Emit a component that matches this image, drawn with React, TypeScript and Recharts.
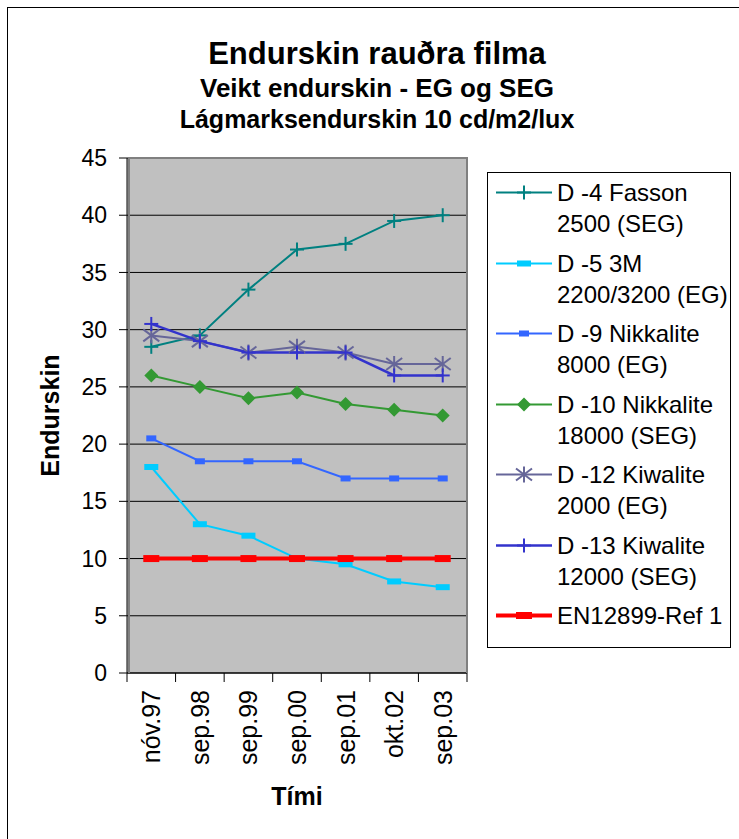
import { CartesianGrid, Line, LineChart, XAxis, YAxis } from 'recharts'

const CATEGORIES = ['nóv.97', 'sep.98', 'sep.99', 'sep.00', 'sep.01', 'okt.02', 'sep.03']
const Y_TICKS = [0, 5, 10, 15, 20, 25, 30, 35, 40, 45]

const D4_FASSON = [28.5, 29.5, 33.5, 37, 37.5, 39.5, 40]
const D5_3M = [18, 13, 12, 10, 9.5, 8, 7.5]
const D9_NIKKALITE = [20.5, 18.5, 18.5, 18.5, 17, 17, 17]
const D10_NIKKALITE = [26, 25, 24, 24.5, 23.5, 23, 22.5]
const D12_KIWALITE = [29.5, 29, 28, 28.5, 28, 27, 27]
const D13_KIWALITE = [30.5, 29, 28, 28, 28, 26, 26]
const EN_REF = [10, 10, 10, 10, 10, 10, 10]

const TITLE = 'Endurskin rauðra filma'
const SUBTITLE_1 = 'Veikt endurskin - EG og SEG'
const SUBTITLE_2 = 'Lágmarksendurskin 10 cd/m2/lux'
const Y_TITLE = 'Endurskin'
const X_TITLE = 'Tími'

type MarkerKind = 'plus' | 'rectWide' | 'rectSmall' | 'diamond' | 'star' | 'rectRef'

interface SeriesDef {
  key: string
  lines: string[]
  values: number[]
  color: string
  width: number
  marker: MarkerKind
}

const SERIES: SeriesDef[] = [
  { key: 'd4', lines: ['D -4 Fasson', '2500 (SEG)'], values: D4_FASSON, color: '#008080', width: 2, marker: 'plus' },
  { key: 'd5', lines: ['D -5 3M', '2200/3200 (EG)'], values: D5_3M, color: '#00CCFF', width: 2, marker: 'rectWide' },
  { key: 'd9', lines: ['D -9 Nikkalite', '8000 (EG)'], values: D9_NIKKALITE, color: '#3366FF', width: 2, marker: 'rectSmall' },
  { key: 'd10', lines: ['D -10 Nikkalite', '18000 (SEG)'], values: D10_NIKKALITE, color: '#339933', width: 2, marker: 'diamond' },
  { key: 'd12', lines: ['D -12 Kiwalite', '2000 (EG)'], values: D12_KIWALITE, color: '#666699', width: 2, marker: 'star' },
  { key: 'd13', lines: ['D -13 Kiwalite', '12000 (SEG)'], values: D13_KIWALITE, color: '#3333CC', width: 2.5, marker: 'plus' },
  { key: 'ref', lines: ['EN12899-Ref 1'], values: EN_REF, color: '#FF0000', width: 4, marker: 'rectRef' },
]

const data = CATEGORIES.map((name, i) => {
  const row: Record<string, string | number> = { name }
  SERIES.forEach((s) => {
    row[s.key] = s.values[i]
  })
  return row
})

const FONT = '"Liberation Sans", Arial, sans-serif'
const PLOT_W = 340
const HALF_BAND = PLOT_W / CATEGORIES.length / 2
const X_TICK_SIZE = 9
const X_TICK_MARGIN = 8

function Marker({ kind, cx, cy, color }: { kind: MarkerKind; cx: number; cy: number; color: string }) {
  switch (kind) {
    case 'plus':
      return (
        <g stroke={color} strokeWidth={2}>
          <line x1={cx - 7} x2={cx + 7} y1={cy} y2={cy} />
          <line x1={cx} x2={cx} y1={cy - 7} y2={cy + 7} />
        </g>
      )
    case 'star':
      return (
        <g stroke={color} strokeWidth={2}>
          <line x1={cx} x2={cx} y1={cy - 8} y2={cy + 8} />
          <line x1={cx - 8} x2={cx + 8} y1={cy - 6} y2={cy + 6} />
          <line x1={cx - 8} x2={cx + 8} y1={cy + 6} y2={cy - 6} />
        </g>
      )
    case 'diamond':
      return <polygon points={`${cx},${cy - 7} ${cx + 7},${cy} ${cx},${cy + 7} ${cx - 7},${cy}`} fill={color} />
    case 'rectWide':
      return <rect x={cx - 7} y={cy - 3} width={14} height={6} fill={color} />
    case 'rectSmall':
      return <rect x={cx - 5} y={cy - 3} width={10} height={6} fill={color} />
    case 'rectRef':
      return <rect x={cx - 8} y={cy - 3.5} width={16} height={7} fill={color} />
  }
}

function XTick(props: any) {
  const { x, y, payload } = props
  const axisY = y - X_TICK_SIZE - X_TICK_MARGIN
  const last = payload.index === CATEGORIES.length - 1
  return (
    <g>
      <line x1={x - HALF_BAND} x2={x - HALF_BAND} y1={axisY} y2={axisY + X_TICK_SIZE} stroke="#000" />
      {last && <line x1={x + HALF_BAND} x2={x + HALF_BAND} y1={axisY} y2={axisY + X_TICK_SIZE} stroke="#000" />}
      <text
        x={x}
        y={y}
        transform={`rotate(-90, ${x}, ${y})`}
        textAnchor="end"
        dominantBaseline="central"
        fontSize={25}
        fontFamily={FONT}
        fill="#000"
      >
        {payload.value}
      </text>
    </g>
  )
}

function Legend() {
  return (
    <div
      style={{
        position: 'absolute',
        left: 487,
        top: 172,
        width: 244,
        height: 476,
        boxSizing: 'border-box',
        border: '1px solid #000',
        paddingTop: 4,
        fontFamily: FONT,
        fontSize: 24,
        color: '#000',
      }}
    >
      {SERIES.map((s) => (
        <div key={s.key} style={{ display: 'flex', height: 70.5 }}>
          <svg width={56} height={31} style={{ marginLeft: 8, marginRight: 5, flex: 'none' }}>
            <line x1={0} x2={56} y1={15.5} y2={15.5} stroke={s.color} strokeWidth={s.width} />
            <Marker kind={s.marker} cx={28} cy={15.5} color={s.color} />
          </svg>
          <div style={{ lineHeight: '31px', whiteSpace: 'nowrap' }}>
            {s.lines.map((l) => (
              <div key={l}>{l}</div>
            ))}
          </div>
        </div>
      ))}
    </div>
  )
}

export default function App() {
  return (
    <div
      style={{
        position: 'fixed',
        left: 0,
        top: 0,
        width: 739,
        height: 839,
        overflow: 'hidden',
        background: '#fff',
        fontFamily: FONT,
      }}
    >
      <div style={{ position: 'absolute', left: 7, top: 7, width: 760, height: 860, border: '1px solid #000' }} />
      <svg width={739} height={150} style={{ position: 'absolute', left: 0, top: 0 }}>
        <g fontFamily={FONT} fontWeight="bold" textAnchor="middle" fill="#000">
          <text x={377} y={64} fontSize={31}>{TITLE}</text>
          <text x={377} y={97} fontSize={26}>{SUBTITLE_1}</text>
          <text x={377} y={128} fontSize={25}>{SUBTITLE_2}</text>
        </g>
      </svg>
      <div style={{ position: 'absolute', left: 8, top: 8 }}>
        <LineChart width={731} height={831} data={data} margin={{ top: 150, right: 272, bottom: 26, left: 19 }}>
          <CartesianGrid vertical={false} stroke="#000" fill="#C0C0C0" fillOpacity={1} />
          <XAxis
            dataKey="name"
            interval={0}
            height={140}
            padding={{ left: HALF_BAND, right: HALF_BAND }}
            axisLine={{ stroke: '#000' }}
            tickLine={false}
            tickSize={X_TICK_SIZE}
            tickMargin={X_TICK_MARGIN}
            tick={<XTick />}
            label={{
              value: X_TITLE,
              content: ({ viewBox }: any) => (
                <text
                  x={viewBox.x + viewBox.width / 2}
                  y={viewBox.y + 132}
                  textAnchor="middle"
                  fontSize={25}
                  fontWeight="bold"
                  fontFamily={FONT}
                  fill="#000"
                >
                  {X_TITLE}
                </text>
              ),
            }}
          />
          <YAxis
            width={100}
            domain={[0, 45]}
            ticks={Y_TICKS}
            interval={0}
            axisLine={{ stroke: '#000' }}
            tickLine={{ stroke: '#000' }}
            tickSize={8}
            tickMargin={12}
            tick={{ fill: '#000', fontSize: 23, fontFamily: FONT }}
            label={{
              value: Y_TITLE,
              content: ({ viewBox }: any) => {
                const x = viewBox.x + 32
                const y = viewBox.y + viewBox.height / 2
                return (
                  <text
                    x={x}
                    y={y}
                    transform={`rotate(-90, ${x}, ${y})`}
                    textAnchor="middle"
                    fontSize={25}
                    fontWeight="bold"
                    fontFamily={FONT}
                    fill="#000"
                  >
                    {Y_TITLE}
                  </text>
                )
              },
            }}
          />
          {SERIES.map((s) => (
            <Line
              key={s.key}
              dataKey={s.key}
              stroke={s.color}
              strokeWidth={s.width}
              isAnimationActive={false}
              activeDot={false}
              dot={(p: any) => <Marker key={`${s.key}-${p.index}`} kind={s.marker} cx={p.cx} cy={p.cy} color={s.color} />}
            />
          ))}
        </LineChart>
      </div>
      <div
        style={{
          position: 'absolute',
          left: 128,
          top: 157,
          width: 340,
          height: 516,
          boxSizing: 'border-box',
          borderTop: '2px solid #808080',
          borderRight: '2px solid #808080',
          borderLeft: '2px solid #808080',
          pointerEvents: 'none',
        }}
      />
      <Legend />
    </div>
  )
}
